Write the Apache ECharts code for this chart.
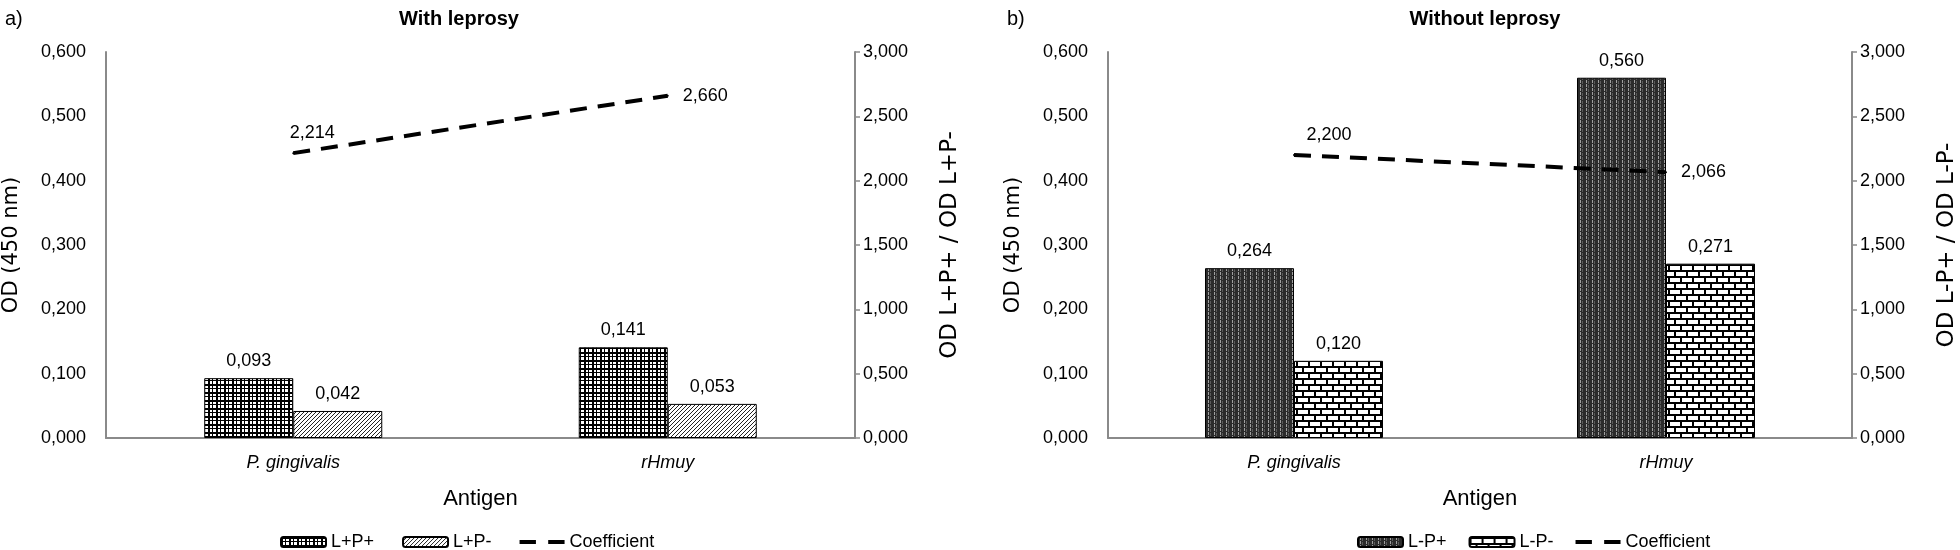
<!DOCTYPE html>
<html>
<head>
<meta charset="utf-8">
<title>OD by antigen</title>
<script src="https://cdn.jsdelivr.net/npm/echarts@6/dist/echarts.min.js"></script>
<style>
    html, body {margin:0; padding:0; background:#fff;}
    #chart {width:1960px; height:550px;}
</style>
</head>
<body>
<div id="chart"></div>
<script>
// categories
var antigens = ['P. gingivalis', 'rHmuy'];

// a) with leprosy
var withPos = [0.093, 0.141];     // L+P+
var withNeg = [0.042, 0.053];     // L+P-
var withCoef = [2.214, 2.660];    // L+P+ / L+P-

// b) without leprosy
var withoutPos = [0.264, 0.560];  // L-P+
var withoutNeg = [0.120, 0.271];  // L-P-
var withoutCoef = [2.200, 2.066]; // L-P+ / L-P-

// axis ranges
var odMax = 0.6, odStep = 0.1;
var coefMax = 3, coefStep = 0.5;

var FONT = 'Liberation Sans, Arial, sans-serif';
var DASH_ICON = 'path://M0 0h16v4h-16z M28 0h16v4h-16z';

function comma(v){
    return v.toFixed(3).replace('.', ',');
}

// small canvas tiles used as bar fills
function pattern(w, h, draw){
    var c = document.createElement('canvas');
    c.width = w; c.height = h;
    var ctx = c.getContext('2d');
    draw(ctx);
    return {image: c, repeat: 'repeat'};
}

var gridFill = pattern(8, 8, function(ctx){
    ctx.fillStyle = '#fff'; ctx.fillRect(0, 0, 8, 8);
    ctx.fillStyle = '#000';
    ctx.fillRect(0, 0, 2, 8); ctx.fillRect(4, 0, 1, 8);
    ctx.fillRect(0, 0, 8, 2); ctx.fillRect(0, 4, 8, 1);
});
var diagFill = pattern(4, 4, function(ctx){
    ctx.fillStyle = '#fff'; ctx.fillRect(0, 0, 4, 4);
    ctx.fillStyle = '#222';
    for (var i = 0; i < 4; i++) ctx.fillRect(i, 3 - i, 1, 1);
});
var darkFill = pattern(6, 4, function(ctx){
    ctx.fillStyle = '#2b2b2b'; ctx.fillRect(0, 0, 6, 4);
    ctx.fillStyle = '#a0a0a0'; ctx.fillRect(2, 0, 1, 3);
    ctx.fillStyle = '#5a5a5a'; ctx.fillRect(4, 1, 1, 3);
});
var brickFill = pattern(12, 12, function(ctx){
    ctx.fillStyle = '#fff'; ctx.fillRect(0, 0, 12, 12);
    ctx.fillStyle = '#000';
    ctx.fillRect(0, 0, 12, 2); ctx.fillRect(0, 6, 12, 2);
    ctx.fillRect(0, 2, 2, 4); ctx.fillRect(6, 8, 2, 4);
});

var axisGrey = '#8a8a8a';
var tickFont = {color:'#000', fontSize:18, fontFamily:FONT};

function xAxisFor(idx){
    return {
        type: 'category', gridIndex: idx, data: antigens,
        name: 'Antigen', nameLocation: 'middle', nameGap: 50,
        nameTextStyle: {color:'#000', fontSize:22, fontFamily:FONT},
        axisLine: {lineStyle:{color:axisGrey, width:2}},
        axisTick: {show:false},
        axisLabel: {color:'#000', fontSize:18, fontFamily:FONT, fontStyle:'italic', margin:16}
    };
}
function odAxis(idx){
    return {
        type: 'value', gridIndex: idx, min: 0, max: odMax, interval: odStep,
        name: 'OD (450 nm)', nameLocation: 'middle', nameGap: 84, nameRotate: 90,
        nameTextStyle: {color:'#000', fontSize:21, fontFamily:'DejaVu Sans'},
        axisLine: {show:true, lineStyle:{color:axisGrey, width:2}},
        axisTick: {show:false},
        splitLine: {show:false},
        axisLabel: Object.assign({margin:20, formatter:comma}, tickFont)
    };
}
function coefAxis(idx, title){
    return {
        type: 'value', gridIndex: idx, position: 'right', min: 0, max: coefMax, interval: coefStep,
        name: title, nameLocation: 'middle', nameGap: 84, nameRotate: 90,
        nameTextStyle: {color:'#000', fontSize:23, fontFamily:'DejaVu Sans'},
        axisLine: {show:true, lineStyle:{color:axisGrey, width:2}},
        axisTick: {show:true, length:5, lineStyle:{color:axisGrey, width:1.5}},
        splitLine: {show:false},
        axisLabel: Object.assign({margin:8, formatter:comma}, tickFont)
    };
}
function barSeries(name, data, fill, axisIdx){
    return {
        name: name, type: 'bar', xAxisIndex: axisIdx, yAxisIndex: axisIdx * 2,
        data: data, barWidth: 89, barGap: '0%',
        itemStyle: {color: fill, borderColor:'#000', borderWidth:1},
        label: {show:true, position:'top', distance:8, color:'#000', fontSize:18, fontFamily:FONT,
            formatter: function(p){ return comma(p.value); }}
    };
}
function coefSeries(data, axisIdx, firstOffset){
    return {
        name: 'Coefficient', type: 'line', xAxisIndex: axisIdx, yAxisIndex: axisIdx * 2 + 1,
        symbol: 'circle', symbolSize: 2, z: 5,
        lineStyle: {color:'#000', width:4, type:[17, 11]},
        itemStyle: {color:'#000'},
        label: {show:true, color:'#000', fontSize:18, fontFamily:FONT,
            formatter: function(p){ return comma(p.value); }},
        data: [
            {value: data[0], label:{position:'top', distance:10, offset:firstOffset}},
            {value: data[1], label:{position:'right', distance:14}}
        ]
    };
}
function legendFor(names, left, gap){
    return {
        data: [{name:names[0]}, {name:names[1]}, {name:'Coefficient', icon:DASH_ICON}],
        left: left, top: 528, itemWidth: 45, itemHeight: 10, itemGap: gap,
        textStyle: {fontSize:18, color:'#000', fontFamily:FONT}
    };
}

var option = {
    animation: false,
    backgroundColor: '#fff',
    title: [
        {text:'With leprosy', left:454, top:4, textAlign:'center',
            textStyle:{fontSize:20, fontWeight:'bold', color:'#000', fontFamily:FONT}},
        {text:'Without leprosy', left:1480, top:4, textAlign:'center',
            textStyle:{fontSize:20, fontWeight:'bold', color:'#000', fontFamily:FONT}},
        {text:'a)', left:0, top:4, textStyle:{fontSize:20, fontWeight:'normal', color:'#000', fontFamily:FONT}},
        {text:'b)', left:1002, top:4, textStyle:{fontSize:20, fontWeight:'normal', color:'#000', fontFamily:FONT}}
    ],
    legend: [
        legendFor(['L+P+', 'L+P-'], 275, 28),
        legendFor(['L-P+', 'L-P-'], 1352, 22)
    ],
    grid: [
        {left:104, right:1105, top:52, bottom:112},
        {left:1108, right:102, top:52, bottom:112}
    ],
    xAxis: [xAxisFor(0), xAxisFor(1)],
    yAxis: [odAxis(0), coefAxis(0, 'OD L+P+ / OD L+P-'), odAxis(1), coefAxis(1, 'OD L-P+ / OD L-P-')],
    series: [
        barSeries('L+P+', withPos, gridFill, 0),
        barSeries('L+P-', withNeg, diagFill, 0),
        coefSeries(withCoef, 0, [19, 0]),
        barSeries('L-P+', withoutPos, darkFill, 1),
        barSeries('L-P-', withoutNeg, brickFill, 1),
        coefSeries(withoutCoef, 1, [35, 0])
    ]
};

echarts.init(document.getElementById('chart')).setOption(option);
</script>
</body>
</html>
